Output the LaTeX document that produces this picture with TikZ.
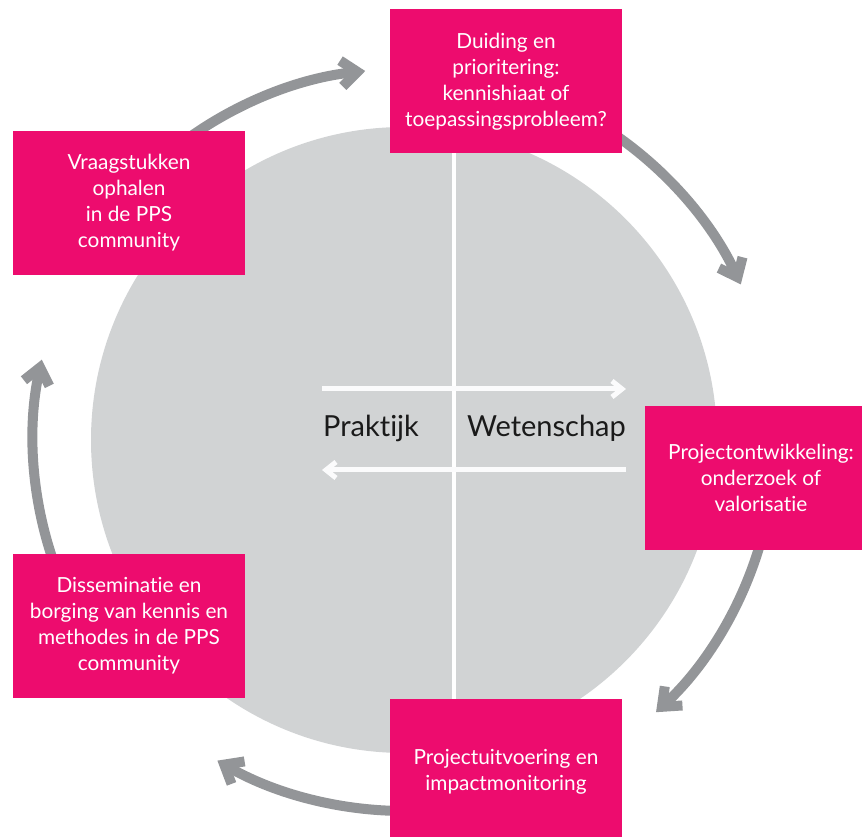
\documentclass[tikz,border=0pt]{standalone}
\usepackage{fontspec}
\setmainfont{Lato}[Ligatures={NoCommon,NoRare}]
\usetikzlibrary{arrows.meta,positioning}
\definecolor{ppspink}{HTML}{ED0C6E}
\definecolor{cyclegray}{HTML}{939598}
\definecolor{discgray}{HTML}{D1D3D4}
\definecolor{darktext}{HTML}{1A1A1A}

\begin{document}
\begin{tikzpicture}[x=1pt,y=1pt,
  Stepbox/.style={rectangle,fill=ppspink,text=white,minimum width=232pt,minimum height=144pt,inner sep=0pt,align=center,font=\fontsize{20.8}{26}\selectfont},
  Sidelabel/.style={text=darktext,inner sep=0pt,font=\fontsize{29}{34}\selectfont},
  Cyclearrow/.style={draw=cyclegray,line width=10pt,-{Straight Barb[length=16pt,width=26pt]}},
  Flowarrow/.style={draw=white!92!discgray,line width=5pt,-{Straight Barb[length=10pt,width=16pt]}}
]
\useasboundingbox (0,0) rectangle (862,837);

% the disc
\coordinate (ring) at (404,397);
\fill[discgray] (ring) circle[radius=313];

% the divider
\coordinate (divtop) at (454,684);
\coordinate (divbot) at (454,137);
\draw[white,line width=4pt] (divtop) -- (divbot);

% the two flows
\coordinate (pr1) at (322,448);
\coordinate (we1) at (626,448);
\coordinate (pr2) at (322,367);
\coordinate (we2) at (626,367);
\draw[Flowarrow] (pr1) -- (we1);
\draw[Flowarrow] (we2) -- (pr2);

\node[Sidelabel,anchor=base west] (prak) at (323,400) {Praktijk};
\node[Sidelabel,anchor=base east] (wet) at (626,400) {Wetenschap};

% the cycle, behind the steps
\foreach \s/\e in {126/96,55/24.8,-16/-47.2,268.5/239.8,199/167.5}
  \draw[Cyclearrow] ([shift={(\s:371)}]ring) arc[start angle=\s,end angle=\e,radius=371];

% the steps
\node[Stepbox] (S1) at (129,634) {Vraagstukken\\ophalen\\in de PPS\\community};
\node[Stepbox] (S2) at (506,755.5) {Duiding en\\prioritering:\\kennishiaat of\\toepassingsprobleem?};
\node[Stepbox] (S3) at (761,359) {Projectontwikkeling:\\onderzoek of\\valorisatie};
\node[Stepbox] (S4) at (506,65.5) {Projectuitvoering en\\impactmonitoring};
\node[Stepbox] (S5) at (129,211) {Disseminatie en\\borging van kennis en\\methodes in de PPS\\community};

\end{tikzpicture}
\end{document}
